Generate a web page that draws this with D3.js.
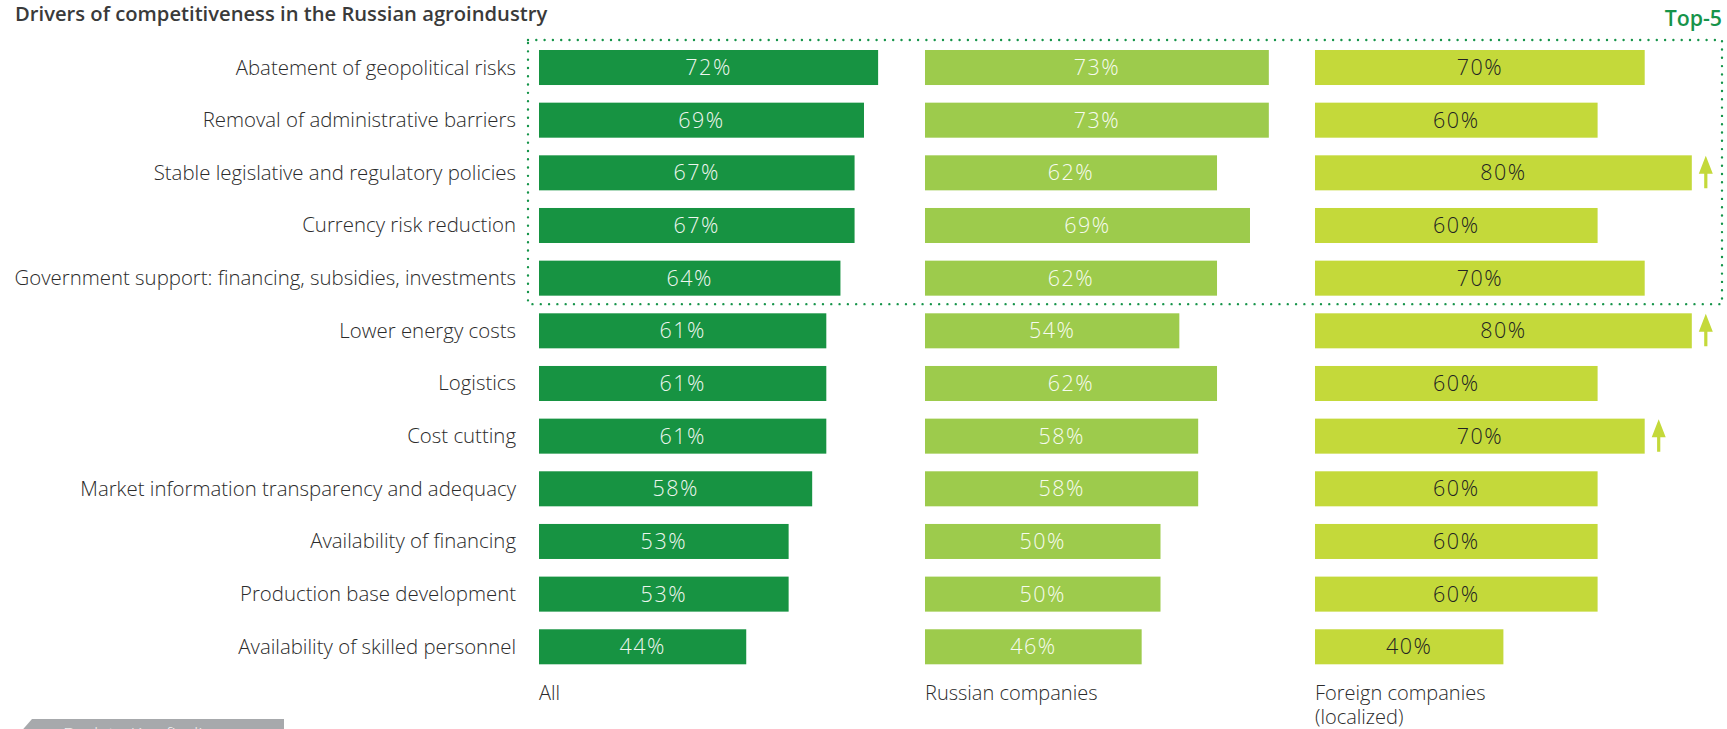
<!DOCTYPE html>
<html>
<head>
<meta charset="utf-8">
<script src="https://cdn.jsdelivr.net/npm/d3@7"></script>
<style>
  html, body { margin: 0; padding: 0; background: #fff; }
  svg { display: block; font-family: "Open Sans", "Noto Sans", sans-serif; }
</style>
</head>
<body>
<svg id="chart" width="1727" height="729"></svg>
<script>
// Drivers of competitiveness, share of respondents (%)
const categories = [
  "Abatement of geopolitical risks",
  "Removal of administrative barriers",
  "Stable legislative and regulatory policies",
  "Currency risk reduction",
  "Government support: financing, subsidies, investments",
  "Lower energy costs",
  "Logistics",
  "Cost cutting",
  "Market information transparency and adequacy",
  "Availability of financing",
  "Production base development",
  "Availability of skilled personnel"
];
const allValues     = [72, 69, 67, 67, 64, 61, 61, 61, 58, 53, 53, 44];
const russianValues = [73, 73, 62, 69, 62, 54, 62, 58, 58, 50, 50, 46];
const foreignValues = [70, 60, 80, 60, 70, 80, 60, 70, 60, 60, 60, 40];
// drivers whose importance is higher for foreign companies
const foreignRising = ["Stable legislative and regulatory policies", "Lower energy costs", "Cost cutting"];
const topCount = 5;

const seriesNames = [["All"], ["Russian companies"], ["Foreign companies", "(localized)"]];

const svg = d3.select("#chart");

const columns = [
  { values: allValues,     name: seriesNames[0], left: 539,  fill: "#179342", text: "#eef6ef" },
  { values: russianValues, name: seriesNames[1], left: 925,  fill: "#9dcb4c", text: "#f7fbef" },
  { values: foreignValues, name: seriesNames[2], left: 1315, fill: "#c4d93a", text: "#222222" }
];
const pxPerPct = 4.71;

const y = d3.scaleBand()
  .domain(categories)
  .range([50, 664.3])
  .paddingInner(0.335)
  .paddingOuter(0);

// title
svg.append("text")
  .attr("x", 15).attr("y", 21)
  .attr("font-size", 20.2).attr("font-weight", 600)
  .attr("fill", "#3a3a3a")
  .text("Drivers of competitiveness in the Russian agroindustry");

// category labels
svg.append("g").selectAll("text")
  .data(categories)
  .join("text")
  .attr("x", 516)
  .attr("y", d => y(d) + y.bandwidth() / 2 + 7)
  .attr("text-anchor", "end")
  .attr("font-size", 20.4)
  .attr("font-weight", 300)
  .attr("fill", "#2b2b2b")
  .text(d => d);

columns.forEach(col => {
  const x = d3.scaleLinear().domain([0, 100]).range([col.left, col.left + 100 * pxPerPct]);
  const g = svg.append("g");
  const rows = categories.map((c, i) => ({ c, v: col.values[i] }));

  g.selectAll("rect")
    .data(rows)
    .join("rect")
    .attr("x", x(0))
    .attr("y", d => y(d.c))
    .attr("width", d => x(d.v) - x(0))
    .attr("height", y.bandwidth())
    .attr("fill", col.fill);

  g.selectAll("text.val")
    .data(rows)
    .join("text")
    .attr("class", "val")
    .attr("x", d => (x(0) + x(d.v)) / 2)
    .attr("y", d => y(d.c) + y.bandwidth() / 2 + 7.5)
    .attr("text-anchor", "middle")
    .attr("font-size", 21.5)
    .attr("font-weight", 300)
    .attr("letter-spacing", 1.5)
    .attr("fill", col.text)
    .text(d => d.v + "%");

  // series name under the column
  g.append("text")
    .attr("x", x(0))
    .attr("y", 700)
    .attr("font-size", 20)
    .attr("font-weight", 300)
    .attr("fill", "#2b2b2b")
    .selectAll("tspan")
    .data(col.name)
    .join("tspan")
    .attr("x", x(0))
    .attr("dy", (d, i) => i === 0 ? 0 : 24)
    .text(d => d);

  col.x = x;
});

// upward arrows next to rising foreign-company drivers
const fx = columns[2].x;
const arrows = svg.append("g").attr("fill", "#c4d93a");
categories.forEach((c, i) => {
  if (!foreignRising.includes(c)) return;
  const cx = fx(foreignValues[i]) + 14;
  const top = y(c) + 0.5;
  const bottom = y(c) + y.bandwidth() - 2;
  arrows.append("path")
    .attr("d", `M${cx},${top} L${cx + 7},${top + 18} L${cx + 1.6},${top + 18} L${cx + 1.6},${bottom} L${cx - 1.6},${bottom} L${cx - 1.6},${top + 18} L${cx - 7},${top + 18} Z`);
});

// dotted frame around the top drivers
const topBottom = y(categories[topCount - 1]) + y.bandwidth() + 8.5;
svg.append("rect")
  .attr("x", 528).attr("y", 40)
  .attr("width", 1722 - 528).attr("height", topBottom - 40)
  .attr("fill", "none")
  .attr("stroke", "#16944a")
  .attr("stroke-width", 2.4)
  .attr("stroke-linecap", "round")
  .attr("stroke-dasharray", "0 8.3");

svg.append("text")
  .attr("x", 1722).attr("y", 26)
  .attr("text-anchor", "end")
  .attr("font-size", 21.3).attr("font-weight", 600)
  .attr("fill", "#16944a")
  .text("Top-5");

// navigation tab at the bottom edge
svg.append("path")
  .attr("d", "M18,735 L32,719 L284,719 L284,735 Z")
  .attr("fill", "#a7a9ac");
svg.append("text")
  .attr("x", 63).attr("y", 741)
  .attr("font-size", 19)
  .attr("font-weight", 300)
  .attr("fill", "#eeeeee")
  .text("Back to Key findings");
</script>
</body>
</html>
